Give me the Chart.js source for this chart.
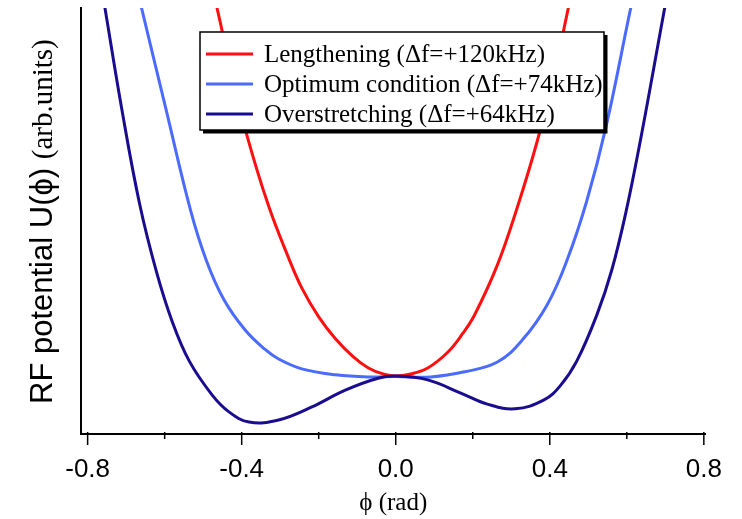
<!DOCTYPE html>
<html>
<head>
<meta charset="utf-8">
<script src="https://cdn.jsdelivr.net/npm/chart.js@4.4.1/dist/chart.umd.min.js"></script>
<style>
  html, body { margin: 0; padding: 0; background: #fff; }
</style>
</head>
<body>
<canvas id="potentialChart" width="742" height="519"></canvas>
<script>
// values (phi in rad, U in arbitrary units 0..100)
const lengtheningPhi = [-0.479, -0.464, -0.425, -0.386, -0.330, -0.278, -0.244, -0.200, -0.156, -0.110, -0.071, -0.033, 0, 0.039, 0.083, 0.135, 0.174, 0.205, 0.264, 0.316, 0.367, 0.409, 0.447, 0.462];
const lengtheningU = [106, 100, 84.3, 70.0, 53.5, 41.3, 34.3, 27.5, 22.3, 18.1, 15.5, 14.1, 13.6, 14.1, 15.5, 19.2, 23.6, 28.0, 39.7, 53.3, 68.6, 83.6, 99.5, 106];

const optimumPhi = [-0.675, -0.660, -0.598, -0.533, -0.492, -0.446, -0.391, -0.340, -0.304, -0.244, -0.156, -0.071, 0, 0.091, 0.179, 0.264, 0.329, 0.393, 0.444, 0.496, 0.547, 0.609, 0.625];
const optimumU = [106, 100, 76.8, 52.6, 40.8, 31.5, 24.4, 19.9, 17.6, 15.3, 13.9, 13.4, 13.5, 13.4, 14.6, 16.9, 22.1, 30.3, 40.6, 54.7, 72.5, 99.5, 106];

const overPhi = [-0.766, -0.755, -0.711, -0.665, -0.621, -0.580, -0.536, -0.477, -0.433, -0.381, -0.304, -0.219, -0.131, -0.046, 0, 0.083, 0.169, 0.238, 0.310, 0.385, 0.427, 0.470, 0.522, 0.561, 0.599, 0.638, 0.669, 0.698, 0.712];
const overU = [106, 100, 76.1, 54.0, 38.0, 26.3, 17.1, 9.2, 5.2, 2.8, 3.3, 6.3, 10.3, 13.1, 13.6, 12.7, 9.6, 7.0, 5.9, 8.0, 11.3, 17.1, 27.9, 38.5, 52.6, 70.2, 85.4, 99.8, 106];

const seriesLabels = ["Lengthening (\u0394f=+120kHz)", "Optimum condition (\u0394f=+74kHz)", "Overstretching (\u0394f=+64kHz)"];
const tickLabels = [-0.8, -0.4, 0.0, 0.4, 0.8];
const minorTicks = [-0.6, -0.2, 0.2, 0.6];
const xTitle = "\u03d5 (rad)";
const yTitleSans = "RF potential U(\u03d5) ";
const yTitleSerif = "(arb.units)";

const SANS = '"Liberation Sans", Arial, sans-serif';
const SERIF = '"Liberation Serif", "Times New Roman", serif';

function toPoints(xs, ys) {
  return xs.map((x, i) => ({ x: x, y: ys[i] }));
}

// major / minor tick marks under the x axis
const tickMarks = {
  id: "tickMarks",
  afterDraw(chart) {
    const ctx = chart.ctx;
    const sx = chart.scales.x;
    const y0 = chart.chartArea.bottom;
    ctx.save();
    ctx.strokeStyle = "#000";
    ctx.lineWidth = 1.5;
    const mark = (v, len) => {
      const px = sx.getPixelForValue(v);
      ctx.beginPath();
      ctx.moveTo(px, y0 - 2);
      ctx.lineTo(px, y0 + len);
      ctx.stroke();
    };
    tickLabels.forEach((v) => mark(v, 11));
    minorTicks.forEach((v) => mark(v, 5));
    ctx.restore();
  },
};

// y title with mixed fonts
const yTitle = {
  id: "yTitle",
  afterDraw(chart) {
    const ctx = chart.ctx;
    ctx.save();
    ctx.translate(52, 404);
    ctx.rotate(-Math.PI / 2);
    ctx.fillStyle = "#000";
    ctx.textAlign = "left";
    ctx.textBaseline = "alphabetic";
    ctx.font = "31px " + SANS;
    ctx.fillText(yTitleSans, 0, 0);
    const w = ctx.measureText(yTitleSans).width;
    ctx.font = "29px " + SERIF;
    ctx.fillText(yTitleSerif, w, 0);
    ctx.restore();
  },
};

// boxed legend with drop shadow
const boxLegend = {
  id: "boxLegend",
  afterDatasetsDraw(chart) {
    const ctx = chart.ctx;
    const bx = 200, by = 32, bw = 404, bh = 98;
    ctx.save();
    ctx.fillStyle = "#000";
    ctx.fillRect(bx + 3, by + 3, bw + 0.5, bh + 0.5);
    ctx.fillStyle = "#fff";
    ctx.fillRect(bx, by, bw, bh);
    ctx.strokeStyle = "#000";
    ctx.lineWidth = 1.5;
    ctx.strokeRect(bx, by, bw, bh);
    ctx.font = "25px " + SERIF;
    ctx.textBaseline = "middle";
    ctx.textAlign = "left";
    chart.data.datasets.forEach((ds, i) => {
      const y = by + 22 + i * 30;
      ctx.strokeStyle = ds.borderColor;
      ctx.lineWidth = 3;
      ctx.beginPath();
      ctx.moveTo(bx + 6, y);
      ctx.lineTo(bx + 53, y);
      ctx.stroke();
      ctx.fillStyle = "#000";
      ctx.fillText(ds.label, bx + 64, y + 1);
    });
    ctx.restore();
  },
};

const ctx = document.getElementById("potentialChart").getContext("2d");

new Chart(ctx, {
  type: "line",
  data: {
    datasets: [
      {
        label: seriesLabels[0],
        data: toPoints(lengtheningPhi, lengtheningU),
        borderColor: "#ff1010",
        order: 1,
      },
      {
        label: seriesLabels[1],
        data: toPoints(optimumPhi, optimumU),
        borderColor: "#4b6bff",
        order: 2,
      },
      {
        label: seriesLabels[2],
        data: toPoints(overPhi, overU),
        borderColor: "#1a0c8f",
        order: 0,
      },
    ],
  },
  options: {
    responsive: false,
    animation: false,
    layout: { padding: { top: 8, right: 32, left: 0, bottom: 0 } },
    elements: {
      point: { radius: 0 },
      line: { borderWidth: 3, tension: 0.4, fill: false },
    },
    plugins: {
      legend: { display: false },
      tooltip: { enabled: false },
    },
    scales: {
      x: {
        type: "linear",
        min: -0.818,
        max: 0.805,
        afterBuildTicks: (scale) => {
          scale.ticks = tickLabels.map((v) => ({ value: v }));
        },
        afterFit: (scale) => {
          scale.height = 85;
        },
        grid: { display: false, drawTicks: false },
        border: { display: true, color: "#000", width: 2 },
        ticks: {
          color: "#000",
          font: { family: SANS, size: 26 },
          padding: 20,
          maxRotation: 0,
          autoSkip: false,
          callback: (v) => Number(v).toFixed(1),
        },
        title: {
          display: true,
          text: xTitle,
          color: "#000",
          font: { family: SERIF, size: 25 },
          padding: { top: 0, bottom: 1 },
        },
      },
      y: {
        min: 0,
        max: 100,
        ticks: { display: false },
        grid: { display: false },
        border: { display: true, color: "#000", width: 2 },
        afterFit: (scale) => {
          scale.width = 80.7;
        },
      },
    },
  },
  plugins: [tickMarks, yTitle, boxLegend],
});
</script>
</body>
</html>
